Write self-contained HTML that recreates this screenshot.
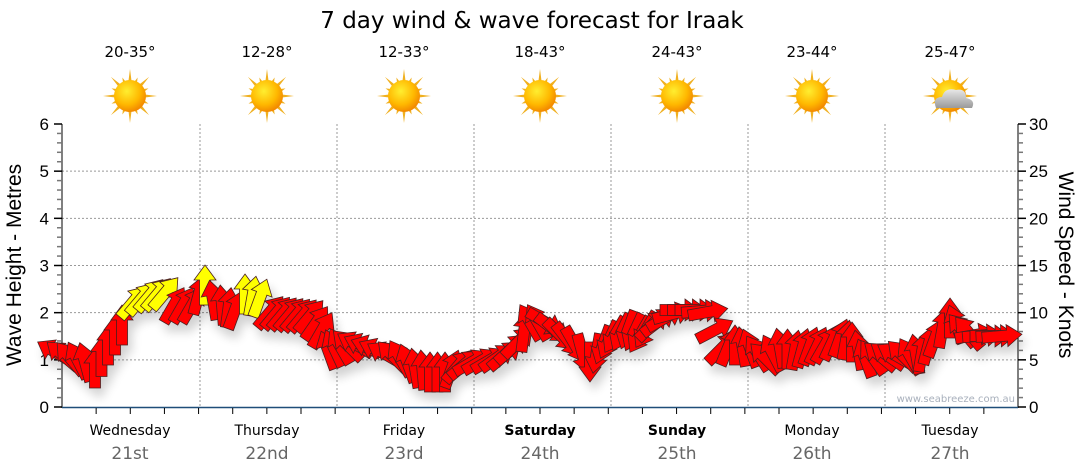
<!DOCTYPE html>
<html><head><meta charset="utf-8">
<style>
body{margin:0;background:#fff;}
svg{display:block;font-family:"Liberation Sans","DejaVu Sans",sans-serif;}
.v{font-family:"DejaVu Sans","Liberation Sans",sans-serif;}
</style></head><body>
<svg id="s" width="1080" height="475" viewBox="0 0 1080 475" xmlns="http://www.w3.org/2000/svg">
<defs>
<radialGradient id="sun" cx="40%" cy="35%" r="70%">
<stop offset="0" stop-color="#ffee30"/><stop offset="0.6" stop-color="#ffb800"/><stop offset="1" stop-color="#f08000"/>
</radialGradient>
<linearGradient id="cl" x1="0" y1="0" x2="0" y2="1"><stop offset="0" stop-color="#e8e8e8"/><stop offset="1" stop-color="#9a9a9a"/></linearGradient>
<filter id="sh" x="-20%" y="-20%" width="140%" height="160%"><feGaussianBlur in="SourceAlpha" stdDeviation="5"/><feOffset dx="4" dy="8"/><feComponentTransfer><feFuncA type="linear" slope="0.18"/></feComponentTransfer><feMerge><feMergeNode/><feMergeNode in="SourceGraphic"/></feMerge></filter>
</defs>
<text class="v" x="532" y="28" font-size="23" text-anchor="middle" fill="#000">7 day wind &amp; wave forecast for Iraak</text>
<g id="temps" class="v" font-size="15" text-anchor="middle" fill="#000"></g>
<g id="suns"></g>
<g id="grid" stroke="#999" stroke-width="1" stroke-dasharray="2,2"></g>
<g id="axes"></g>
<text class="v" x="1015" y="402" font-size="10" text-anchor="end" fill="#a8b0bc">www.seabreeze.com.au</text>
<g id="arrows" filter="url(#sh)"></g>
<text transform="translate(21,265) rotate(-90)" font-size="21" text-anchor="middle">Wave Height - Metres</text>
<text transform="translate(1059,265) rotate(90)" font-size="21" text-anchor="middle">Wind Speed - Knots</text>
<g id="days" class="v" text-anchor="middle"></g>
</svg>
<script>
const NS="http://www.w3.org/2000/svg";
function el(p,t,a,txt){const e=document.createElementNS(NS,t);for(const k in a)e.setAttribute(k,a[k]);if(txt!=null)e.textContent=txt;document.getElementById(p).appendChild(e);return e;}
const cx=[130,267,404,540,677,812,950];
const temps=["20-35°","12-28°","12-33°","18-43°","24-43°","23-44°","25-47°"];
const names=["Wednesday","Thursday","Friday","Saturday","Sunday","Monday","Tuesday"];
const dates=["21st","22nd","23rd","24th","25th","26th","27th"];
cx.forEach((x,i)=>{
 el("temps","text",{x:x,y:57},temps[i]);
 let rays="";
 for(let k=0;k<16;k++){const a=k*Math.PI/8,L=(k%2?20:27),w=0.12;
  rays+=`M${x+Math.cos(a-w)*14} ${96+Math.sin(a-w)*14}L${x+Math.cos(a)*L} ${96+Math.sin(a)*L}L${x+Math.cos(a+w)*14} ${96+Math.sin(a+w)*14}Z`;}
 el("suns","path",{d:rays,fill:"#f0b020"});
 el("suns","circle",{cx:x,cy:96,r:16,fill:"url(#sun)"});
 if(i==6){el("suns","path",{d:`M${x-14} 108 Q${x-18} 97 ${x-8} 97 Q${x-5} 87 ${x+6} 90 Q${x+16} 88 ${x+16} 98 Q${x+26} 100 ${x+22} 108 Z`,fill:"url(#cl)"});}
 el("days","text",{x:x,y:435,"font-size":14,"font-weight":(i==3||i==4)?"bold":"normal"},names[i]);
 el("days","text",{x:x,y:459,"font-size":17,fill:"#666"},dates[i]);
});
for(let m=1;m<=5;m++){const y=407-m*47.17;el("grid","line",{x1:62,x2:1018,y1:y,y2:y});}
[200,337,474,611,748,885].forEach(x=>el("grid","line",{x1:x,x2:x,y1:124,y2:407}));
el("axes","line",{x1:62,x2:62,y1:124,y2:408,stroke:"#000"});
el("axes","line",{x1:1018,x2:1018,y1:124,y2:408,stroke:"#000"});
el("axes","line",{x1:62,x2:1018,y1:407.5,y2:407.5,stroke:"#1f4e79","stroke-width":1.5});
for(let k=0;k<=30;k++){const y=407-k*283/30,maj=k%5==0;
 el("axes","line",{x1:maj?54:57,x2:62,y1:y,y2:y,stroke:maj?"#000":"#777","stroke-width":1.5});
 el("axes","line",{x1:1018,x2:maj?1026:1023,y1:y,y2:y,stroke:maj?"#000":"#777","stroke-width":1.5});
 if(maj){el("axes","text",{x:49,y:y+6,"font-size":17,"text-anchor":"end"},k/5);
  el("axes","text",{x:1029,y:y+6,"font-size":17},k);}}
for(let k=1;k<28;k++){const x=62+k*956/28;el("axes","line",{x1:x,x2:x,y1:408,y2:414,stroke:"#000"});}
const P=[[55,352,-60],[70,358,-40],[85,362,-15],[95,368,0],[108,345,0],[122,325,0],[133,302,40,1],[150,295,40,1],[165,293,40,1],[174,305,30],[192,305,30],[205,285,0,1],[213,300,-10],[222,305,-5],[235,310,20],[245,294,0,1],[260,298,20,1],[270,312,40],[290,314,40],[310,316,40],[322,330,30],[328,350,-20],[340,346,-30],[355,344,-60],[370,347,-70],[385,354,-60],[400,358,-30],[415,368,-10],[430,372,0],[445,372,0],[458,366,40],[472,362,60],[490,360,60],[505,355,50],[518,342,45],[530,322,-30],[545,322,120],[560,335,135],[575,345,150],[590,362,180],[603,345,200],[615,335,210],[628,330,200],[640,335,210],[652,325,45],[665,318,60],[680,310,90],[695,310,90],[708,312,80],[722,348,45],[735,345,0],[750,348,-20],[765,358,-45],[780,348,-10],[795,350,10],[810,346,20],[825,345,30],[840,338,20],[852,342,0],[865,358,-20],[880,356,-50],[895,355,-60],[910,356,-30],[922,352,10],[935,338,20],[950,318,0],[962,330,-40],[975,335,80],[990,336,90],[1002,336,85],[1010,342,-45]];
const sh="0,-20 11,-5 5.5,-5 5.5,20 -5.5,20 -5.5,-5 -11,-5";
for(let i=0;i<P.length-1;i++){const a=P[i],b=P[i+1];const n=Math.max(1,Math.round((b[0]-a[0])/8));
 for(let j=0;j<n;j++){const t=j/n;const x=a[0]+(b[0]-a[0])*t,y=a[1]+(b[1]-a[1])*t;
  let da=b[2]-a[2];const ang=a[2]+(Math.abs(da)>90?0:da*t);
  const yel=a[3]&&(b[3]||t<0.5);
  el("arrows","polygon",{points:sh,transform:`translate(${x},${y}) rotate(${ang})`,fill:yel?"#ffff00":"#ff0000",stroke:"#4a2020","stroke-width":0.8});}}
</script>
</body></html>
